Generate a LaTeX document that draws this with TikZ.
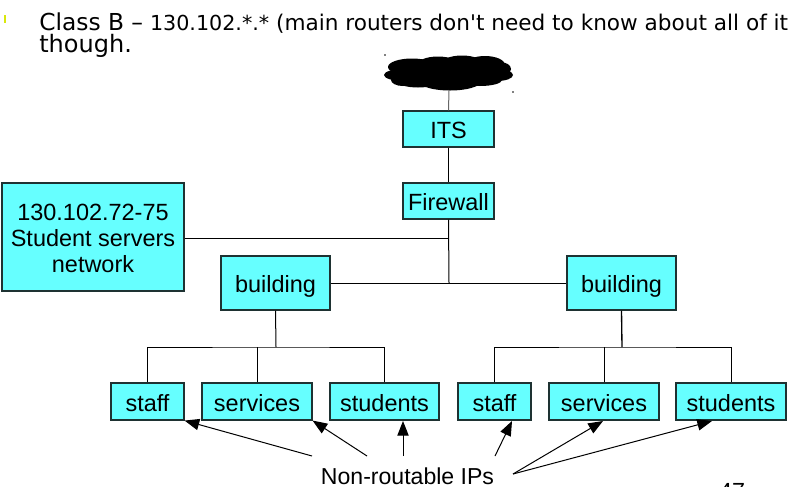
\documentclass[tikz,border=0pt]{standalone}
\usepackage{fontspec}
\setmainfont{Liberation Sans}
\newfontfamily\titlefont{DejaVu Sans}
\usetikzlibrary{arrows.meta}
\definecolor{boxcyan}{RGB}{102,255,255}
\definecolor{boxline}{RGB}{30,50,50}
\tikzset{
  netbox/.style={draw=boxline,fill=boxcyan,line width=0.85pt,inner sep=0pt,font=\fontsize{17.6}{19.4}\selectfont,anchor=center},
  wire/.style={draw=black,line width=0.75pt},
  callout/.style={draw=black,line width=0.75pt,-{Triangle[length=11pt,width=8.5pt]},shorten >=0pt},
  puff/.style={fill=black,draw=none}
}
\newcommand{\pbox}[6]{\node[netbox,minimum width=#4*0.75pt,minimum height=#5*0.75pt] (#1) at (#2,#3) {\raisebox{-7.7pt}[0pt][0pt]{\begin{tabular}{@{}c@{}}#6\end{tabular}}};}
\begin{document}
\begin{tikzpicture}[x=0.75pt,y=-0.75pt]
\useasboundingbox (0,0) rectangle (792,486);
% title
\fill[yellow!85!green] (4,15) rectangle (6,23);
\node[anchor=base west,inner sep=0pt,font=\titlefont\fontsize{16.2}{18}\selectfont] (titleA) at (39,30) {{\fontsize{17.5}{18}\selectfont Class B –} {\fontsize{15.5}{18}\selectfont 130.102.*.*} (main routers don't need to know about all of it};
\node[anchor=base west,inner sep=0pt,font=\titlefont\fontsize{18}{18}\selectfont] (titleB) at (39,52) {though.};
% cloud
\foreach \cx/\cy/\rx/\ry in {449/74/54/14,412/67/24/8.5,438/66/22/9.5,462/65/22/9.5,485/65/20/9,500/69/11/7,403/75/19/6,497/75/16/6,403/80/12/6,418/81/21/6.5,450/82/30/8.5,480/80/22/6}{
  \fill[puff] (\cx,\cy) ellipse [x radius=\rx*0.75pt,y radius=\ry*0.75pt];
}
\fill[black] (385,55) circle (0.6pt) (513,92) circle (0.6pt);
\coordinate (cloud) at (449,90);
% boxes
\pbox{its}{448.5}{129}{91}{36}{ITS}
\pbox{fw}{448.5}{201}{91}{36}{Firewall}
\pbox{srv}{93}{237}{182}{108}{130.102.72-75\\Student servers\\network}
\pbox{bA}{275.5}{283}{109}{54}{building}
\pbox{bB}{621.5}{283}{109}{54}{building}
\pbox{sA}{147.5}{401.5}{73}{37}{staff}
\pbox{vA}{257}{401.5}{110}{37}{services}
\pbox{uA}{384.5}{401.5}{109}{37}{students}
\pbox{sB}{494.5}{401.5}{73}{37}{staff}
\pbox{vB}{604}{401.5}{110}{37}{services}
\pbox{uB}{731}{401.5}{110}{37}{students}
\node[inner sep=0pt,font=\fontsize{17.3}{19}\selectfont] (nr) at (407.5,476) {Non-routable IPs};
\node[anchor=base,inner sep=0pt,font=\fontsize{17.5}{20}\selectfont] (pg) at (732,499) {47};
% junctions
\coordinate (jsrv) at (449,238);
\coordinate (jb) at (449,283);
\coordinate (tA) at (276,347);
\coordinate (tB) at (622,347);
% wires
\draw[wire,draw=black!60] (cloud) -- (its.north);
\draw[wire] (its) -- (fw);
\draw[wire] (fw.south) -- (jb);
\draw[wire] (srv.east |- jsrv) -- (jsrv);
\draw[wire] (bA) -- (bB);
\draw[wire] (bA.south) -- (tA);
\draw[wire,line width=1pt] (bB.south) -- (tB);
\draw[wire] (sA.north) |- (tA) -| (uA.north);
\draw[wire] (vA.north) -- (vA.north |- tA);
\draw[wire] (sB.north) |- (tB) -| (uB.north);
\draw[wire] (vB.north) -- (vB.north |- tB);
% callouts
\coordinate (c1) at (312,456);
\coordinate (c2) at (367,456);
\coordinate (c3) at (403,456);
\coordinate (c4) at (495,456);
\coordinate (c5) at (513,474);
\draw[callout] (c1) -- (sA.south east);
\draw[callout] (c2) -- (vA.south east);
\draw[callout] (c3) -- (403,421);
\draw[callout] (c4) -- (512,421);
\draw[callout] (c5) -- (603,421);
\draw[callout] (c5) -- (712,421);
\end{tikzpicture}
\end{document}
